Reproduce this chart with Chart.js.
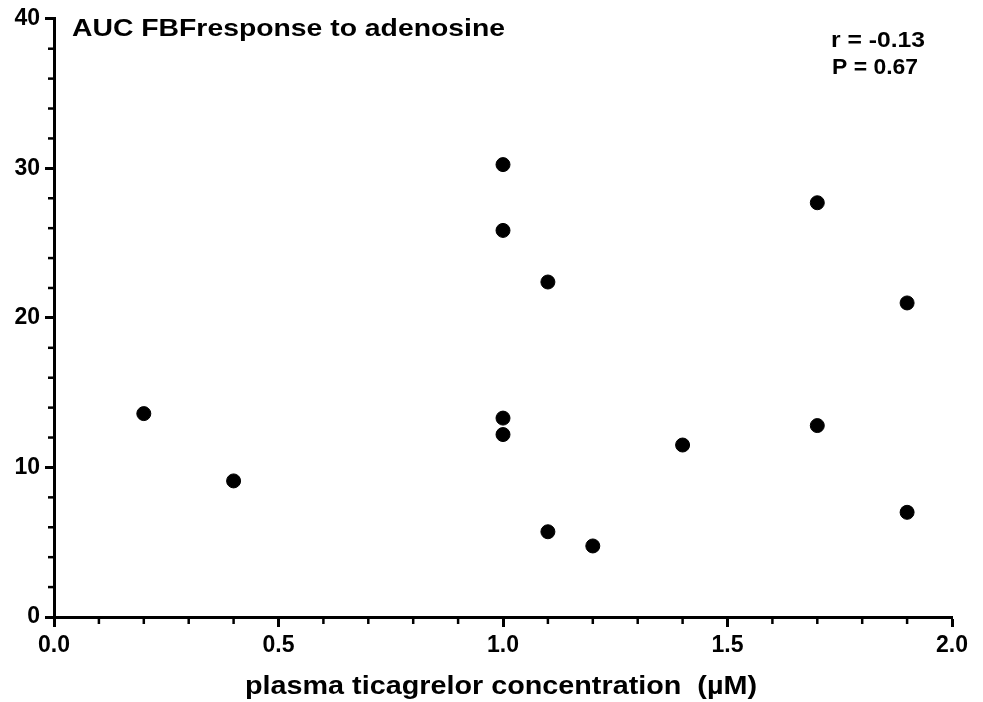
<!DOCTYPE html>
<html>
<head>
<meta charset="utf-8">
<script src="https://cdn.jsdelivr.net/npm/chart.js@4.4.1/dist/chart.umd.min.js"></script>
<style>
  html, body { margin: 0; padding: 0; background: #fff; }
  #wrap { width: 983px; height: 702px; }
</style>
</head>
<body>
<div id="wrap"><canvas id="c" width="983" height="702"></canvas></div>
<script>
// valores
const concentracao = [0.2, 0.4, 1.0, 1.0, 1.0, 1.0, 1.1, 1.1, 1.2, 1.4, 1.7, 1.7, 1.9, 1.9];
const aucFBF = [13.6, 9.1, 30.25, 25.85, 13.3, 12.2, 22.4, 5.7, 4.75, 11.5, 27.7, 12.8, 21.0, 7.0];
const xTicks = [0.0, 0.5, 1.0, 1.5, 2.0];
const yTicks = [0, 10, 20, 30, 40];
const tituloTexto = 'AUC FBFresponse to adenosine';
const estatTexto = ['r = -0.13', 'P = 0.67'];
const eixoXTexto = 'plasma ticagrelor concentration  (\u00b5M)';

const FONT = '"Liberation Sans", Arial, sans-serif';

// Texto esticado na horizontal até a largura desejada (o original é mais largo)
function textoEsticado(ctx, texto, x, y, tamanho, largura) {
  ctx.font = 'bold ' + tamanho + 'px ' + FONT;
  const w = ctx.measureText(texto).width;
  ctx.save();
  ctx.translate(x, y);
  ctx.scale(largura / w, 1);
  ctx.textAlign = 'left';
  ctx.textBaseline = 'alphabetic';
  ctx.fillText(texto, 0, 0);
  ctx.restore();
}

// Plugin para ticks menores e textos
const extrasPlugin = {
  id: 'extras',
  afterDraw(chart) {
    const ctx = chart.ctx;
    const xs = chart.scales.x, ys = chart.scales.y;
    ctx.save();
    ctx.strokeStyle = '#000';
    ctx.lineWidth = 2.5;
    // ticks menores do eixo x (a cada 0.1)
    for (let i = 0; i <= 20; i++) {
      if (i % 5 === 0) continue;
      const px = xs.getPixelForValue(i / 10);
      ctx.beginPath();
      ctx.moveTo(px, ys.bottom);
      ctx.lineTo(px, ys.bottom + 7);
      ctx.stroke();
    }
    // ticks menores do eixo y (a cada 2)
    for (let v = 0; v <= 40; v += 2) {
      if (v % 10 === 0) continue;
      const py = ys.getPixelForValue(v);
      ctx.beginPath();
      ctx.moveTo(xs.left, py);
      ctx.lineTo(xs.left - 6, py);
      ctx.stroke();
    }
    ctx.fillStyle = '#000';
    textoEsticado(ctx, tituloTexto, 72, 36, 24, 433);
    textoEsticado(ctx, estatTexto[0], 831, 47, 22, 94);
    textoEsticado(ctx, estatTexto[1], 832, 74, 22, 86);
    textoEsticado(ctx, eixoXTexto, 245, 694, 25, 512);
    ctx.restore();
  }
};

new Chart(document.getElementById('c').getContext('2d'), {
  type: 'scatter',
  data: {
    datasets: [{
      label: 'AUC',
      data: concentracao.map((x, i) => ({ x: x, y: aucFBF[i] })),
      backgroundColor: '#000',
      borderColor: '#000',
      pointRadius: 7,
      pointHoverRadius: 7
    }]
  },
  options: {
    responsive: false,
    animation: false,
    layout: { padding: { top: 18, right: 31, left: 0, bottom: 0 } },
    plugins: {
      legend: { display: false },
      tooltip: { enabled: false }
    },
    scales: {
      x: {
        type: 'linear',
        min: 0, max: 2,
        afterBuildTicks: s => { s.ticks = xTicks.map(v => ({ value: v })); },
        afterFit: s => { s.height = 85; },
        border: { color: '#000', width: 3 },
        grid: { drawOnChartArea: false, drawTicks: true, tickLength: 10, tickWidth: 3, tickColor: '#000' },
        ticks: {
          color: '#000', padding: 5,
          font: { family: FONT, size: 23, weight: 'bold' },
          callback: v => v.toFixed(1),
          maxRotation: 0
        },
        title: { display: false }
      },
      y: {
        type: 'linear',
        min: 0, max: 40,
        afterBuildTicks: s => { s.ticks = yTicks.map(v => ({ value: v })); },
        afterFit: s => { s.width = 54; },
        border: { color: '#000', width: 3 },
        grid: { drawOnChartArea: false, drawTicks: true, tickLength: 9, tickWidth: 3, tickColor: '#000' },
        ticks: {
          color: '#000', padding: 5,
          font: { family: FONT, size: 23, weight: 'bold' }
        }
      }
    }
  },
  plugins: [extrasPlugin]
});
</script>
</body>
</html>
